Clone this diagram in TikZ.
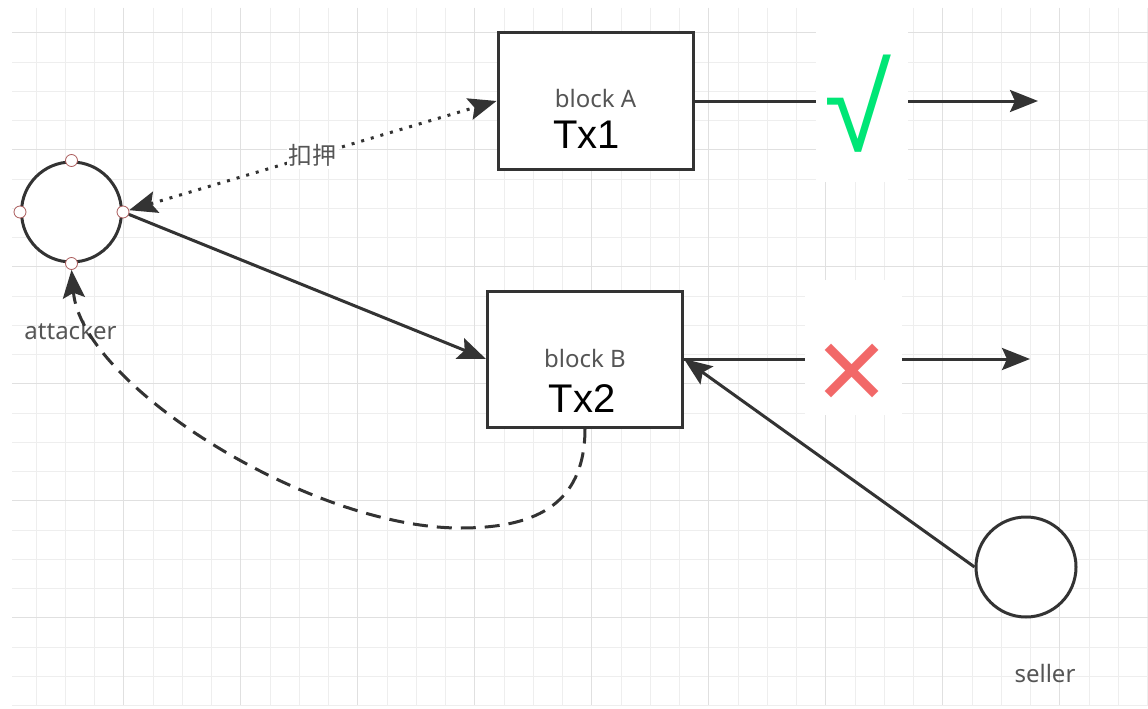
\documentclass[tikz,border=0pt]{standalone}
\usepackage{fontspec}
\setmainfont{Noto Sans}
\newfontfamily\cjkfont{Noto Sans CJK SC}
\newfontfamily\txfont{Liberation Sans}
\newfontfamily\symfont{DejaVu Sans}
\usetikzlibrary{arrows.meta,positioning}
\definecolor{gridminor}{RGB}{238,238,238}
\definecolor{gridmajor}{RGB}{224,224,224}
\definecolor{linegray}{RGB}{51,51,51}
\definecolor{labelgray}{RGB}{85,85,85}
\definecolor{okgreen}{RGB}{0,230,118}
\definecolor{badred}{RGB}{242,104,104}
\definecolor{portred}{RGB}{170,90,90}

\tikzset{
  blockbox/.style={draw=linegray, line width=3pt, fill=white,
    minimum width=195pt, minimum height=136pt, inner sep=0pt},
  party/.style={circle, draw=linegray, line width=3pt, fill=white,
    minimum size=100pt, inner sep=0pt},
  port/.style={circle, draw=portred, line width=0.8pt, fill=white,
    minimum size=12pt, inner sep=0pt},
  lbl/.style={text=labelgray, font=\fontsize{24}{28}\selectfont},
  txlbl/.style={font=\txfont\fontsize{40}{44}\selectfont},
  patch/.style={fill=white, inner sep=0pt},
  link/.style={draw=linegray, line width=3pt},
  headarrow/.style={-{Stealth[length=28pt,width=22pt,inset=5pt]}},
}

\begin{document}
\begin{tikzpicture}[x=1pt, y=-1pt]
  \useasboundingbox (0,0) rectangle (1148,709);
  \fill[white] (0,0) rectangle (1148,709);

  % background grid
  \foreach \i in {1,...,39}
    \draw[gridminor, line width=1pt] ({6.75+29.25*\i},8) -- ({6.75+29.25*\i},705);
  \foreach \j in {1,...,24}
    \draw[gridminor, line width=1pt] (12,{3.6+29.25*\j}) -- (1148,{3.6+29.25*\j});
  \foreach \i in {1,...,9}
    \draw[gridmajor, line width=1pt] ({6.75+117*\i},8) -- ({6.75+117*\i},705);
  \foreach \j in {0,...,5}
    \draw[gridmajor, line width=1pt] (12,{32.85+117*\j}) -- (1148,{32.85+117*\j});

  % blocks
  \node[blockbox] (blockA) at (595.5,101) {};
  \node[blockbox] (blockB) at (585,359) {};
  \node[lbl, anchor=base] (blockAname) at ([yshift=-76pt]blockA.north) {block A};
  \node[txlbl, anchor=base] (txA) at ([xshift=-9pt, yshift=-117pt]blockA.north) {Tx1};
  \node[lbl, anchor=base] (blockBname) at ([yshift=-78pt]blockB.north) {block B};
  \node[txlbl, anchor=base] (txB) at ([xshift=-3pt, yshift=-123pt]blockB.north) {Tx2};

  % parties
  \node[party] (attacker) at (71.5,212) {};
  \node[party] (seller) at (1026,567) {};
  \node[lbl] (attackerlbl) at (70.5,330) {attacker};
  \node[lbl] (sellerlbl) at (1045,673) {seller};

  % connection points on the attacker
  \node[port] (aN) at (attacker.north) {};
  \node[port] (aW) at (attacker.west) {};
  \node[port] (aE) at (attacker.east) {};
  \node[port] (aS) at (attacker.south) {};

  % result marks
  \node[patch, minimum width=92pt, minimum height=182pt] (okmark) at (862,91) {};
  \node[text=okgreen, font=\txfont\fontsize{122}{122}\selectfont] (okglyph) at (858,104) {√};
  \node[patch, minimum width=97pt, minimum height=135pt] (nomark) at (853.5,347.5) {};
  \node[text=badred, font=\symfont\fontsize{92}{92}\selectfont] (noglyph) at (852,374) {✕};

  \coordinate (aEnd) at (1038,101);
  \coordinate (bEnd) at (1030,359);
  \coordinate (dip) at (460,528);

  % chain continuation
  \draw[link] (blockA.east) -- (blockA.east -| okmark.west);
  \draw[link, headarrow] (blockA.east -| okmark.east) -- (aEnd);
  \draw[link] (blockB.east) -- (blockB.east -| nomark.west);
  \draw[link, headarrow] (blockB.east -| nomark.east) -- (bEnd);

  % transactions
  \draw[link, dash pattern=on 3pt off 7pt,
    {Stealth[length=28pt,width=22pt,inset=5pt]}-{Stealth[length=28pt,width=22pt,inset=5pt]}]
    (aE) -- (blockA.west)
    node[midway, lbl, fill=white, inner sep=2pt] (holdlbl) {\cjkfont 扣押};
  \draw[link, headarrow] (aE) -- (blockB.west);
  \draw[link, headarrow] (seller.west) -- (blockB.east);
  \draw[link, headarrow, dash pattern=on 15pt off 9pt]
    (blockB.south) .. controls +(0,80) and +(70,0) .. (dip)
    .. controls +(-150,0) and +(10,115) .. (aS.south);
\end{tikzpicture}
\end{document}
